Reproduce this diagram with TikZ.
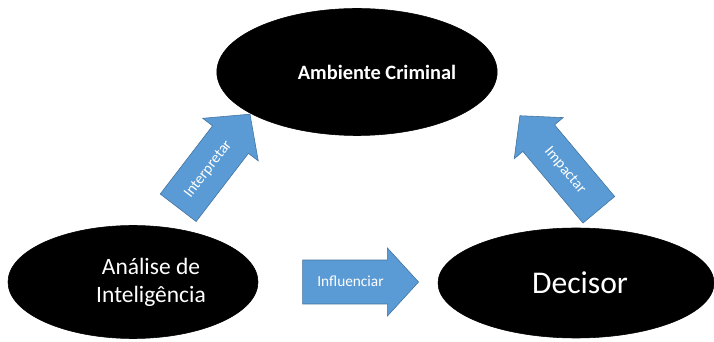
\documentclass[tikz,border=0pt]{standalone}
\usepackage{fontspec}
\setmainfont{Carlito}
\usetikzlibrary{positioning,shapes.geometric,shapes.arrows}
\definecolor{ArrBlue}{HTML}{5B9BD5}
\definecolor{ArrEdge}{HTML}{41719C}

\begin{document}
\begin{tikzpicture}[
  elli/.style={ellipse,fill=black,draw=black,text=white,inner sep=0pt,align=center},
  blockarrow/.style={single arrow,fill=ArrBlue,draw=ArrEdge,text=white,
    font=\fontsize{10.9}{12}\selectfont,inner xsep=4pt,inner ysep=0pt,
    text height=0.56cm,text depth=0.34cm,single arrow tip angle=95}]
  \useasboundingbox (0,0) rectangle (17.85,8.55);
  \node[elli,minimum width=6.75cm,minimum height=3.175cm,font=\bfseries\fontsize{14.5}{17}\selectfont] (amb) at (8.925,6.75) {\hspace*{1cm}Ambiente Criminal};
  \node[elli,minimum width=6.25cm,minimum height=2.825cm,font=\fontsize{16.7}{20}\selectfont] (ana) at (3.325,1.5) {\hspace*{0.9cm}Análise de\\\hspace*{0.9cm}Inteligência};
  \node[elli,minimum width=6.9cm,minimum height=2.75cm,font=\fontsize{22.5}{27}\selectfont] (dec) at (14.4,1.475) {\hspace*{0.2cm}Decisor};
  \node[blockarrow,minimum height=2.95cm,minimum width=1.75cm,rotate=52.5,anchor=tail] (interp) at (4.45,3.35) {Interpretar};
  \node[blockarrow,minimum height=2.9cm,minimum width=1.7cm,right=1.1cm of ana] (infl) {Influenciar};
  \node[blockarrow,minimum height=3.07cm,minimum width=1.6cm,shape border rotate=180,rotate=-50,anchor=tail] (impact) at (14.975,3.3) {Impactar};
\end{tikzpicture}
\end{document}
